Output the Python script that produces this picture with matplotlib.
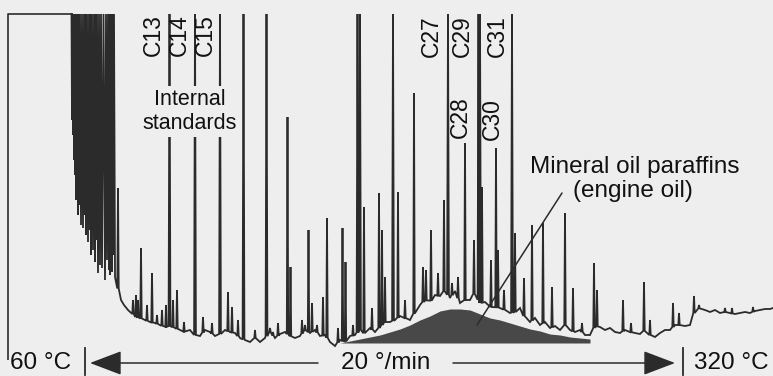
import numpy as np
import matplotlib
matplotlib.use("Agg")
import matplotlib.pyplot as plt

plt.rcParams['font.family'] = ['Liberation Sans', 'DejaVu Sans']

# ---------------- data (retention position, detector response; response axis drawn top-down, 14 = full scale)
FULL_SCALE = 14

# solvent front: valleys between off-scale solvent peaks
solvent_x = [72, 73, 74, 75, 76, 77, 78, 79, 81, 83, 85, 86, 88, 90, 91, 93, 95, 96, 98, 100,
             102, 105, 107, 109, 110, 112, 113]
solvent_low = [120, 135, 160, 175, 200, 190, 215, 205, 225, 228, 215, 235, 242, 230, 255, 250,
               262, 240, 273, 265, 268, 280, 260, 270, 275, 272, 255]

# baseline of the chromatogram
base_x = [115, 121, 124, 128, 133, 136, 140, 145, 150, 155, 160, 165, 170, 175, 180, 185, 190,
          195, 200, 205, 210, 215, 220, 225, 230, 235, 240, 245, 250, 255, 260, 265, 270, 275,
          280, 285, 290, 295, 300, 305, 310, 315, 320, 325, 330, 335, 340, 345, 350, 355, 360,
          365, 370, 375, 380, 385, 390, 395, 400, 405, 410, 415, 420, 425, 430, 435, 440, 445,
          450, 455, 460, 465, 470, 475, 480, 485, 490, 495, 500, 505, 510, 515, 520, 525, 530,
          535, 540, 545, 550, 555, 560, 565, 570, 575, 580, 585, 590, 595, 600, 605, 610, 615,
          620, 625, 630, 635, 640, 645, 650, 655, 660, 665, 670, 675, 680, 685, 690, 695, 700,
          705, 710, 715, 720, 725, 730, 735, 740, 745, 750, 755, 760, 765, 770, 773]
base_y = [277, 300, 305, 310, 314, 317, 318, 320, 322, 323, 325, 327, 326, 328, 330, 332, 330,
          335, 336, 330, 332, 336, 334, 330, 332, 333, 338, 340, 342, 338, 342, 338, 332, 338,
          334, 332, 336, 338, 336, 330, 333, 330, 336, 335, 342, 346, 340, 342, 336, 335, 330,
          334, 328, 332, 327, 322, 322, 320, 316, 318, 320, 312, 305, 300, 302, 295, 296, 290,
          298, 291, 303, 300, 300, 292, 303, 302, 307, 307, 308, 310, 313, 312, 308, 318, 322,
          318, 325, 322, 328, 326, 330, 325, 330, 332, 330, 335, 335, 326, 327, 330, 328, 332,
          333, 330, 332, 333, 334, 330, 335, 337, 333, 330, 330, 325, 325, 326, 325, 310, 308,
          310, 312, 310, 313, 312, 313, 314, 313, 312, 313, 311, 310, 309, 309, 308]

# individual peaks (position, apex)
peak_x = [118, 133, 136, 138, 141, 147, 152, 157, 162, 166, 169.5, 173, 177, 184, 195, 203,
          212, 220, 228, 232, 238, 243.5, 255, 266.5, 270, 273, 278, 287.5, 290.5, 302, 305,
          308.5, 312, 317, 323, 327, 338, 342.5, 345.5, 353, 357.5, 360, 364, 372, 379, 382,
          385, 393, 398, 405, 414, 423, 426, 431, 438, 444, 448, 452, 458, 465, 474, 478.5,
          480, 482, 491, 496, 498, 504, 512, 515, 524, 532, 543, 552, 565, 573, 582, 594, 597,
          623, 631, 644, 650, 673, 679, 694, 699, 725, 732, 753]
peak_top = [188, 300, 295, 300, 248, 305, 273, 315, 310, 305, 14, 300, 290, 322, 14, 317,
            323, 14, 292, 307, 320, 14, 330, 14, 328, 332, 323, 117, 267, 320, 325,
            230, 303, 325, 297, 218, 328, 228, 262, 325, 14, 14, 207, 308, 193, 230,
            277, 14, 192, 300, 93, 267, 270, 230, 273, 200, 14, 283, 277, 143, 240, 14,
            14, 187, 260, 148, 250, 290, 14, 233, 278, 225, 223, 287, 213, 288, 323, 263, 290,
            300, 323, 282, 320, 303, 313, 296, 305, 308, 308, 307]

# unresolved mineral-oil hump
hump_x = [340, 350, 360, 370, 380, 390, 400, 410, 420, 430, 440, 450, 460, 470, 480, 490, 500,
          510, 520, 530, 540, 550, 560, 570, 580, 590]
hump_top = [343, 341, 339, 337, 335, 332, 329, 325, 320, 316, 311, 309, 309, 310, 314, 318, 320,
            323, 326, 329, 331, 334, 335, 337, 338, 339]
hump_floor = 343

# n-alkane labels
label_text = ['C13', 'C14', 'C15', 'C27', 'C29', 'C31', 'C28', 'C30']
label_x = [153, 179, 205, 431, 462, 497, 460, 492]
label_y = [35, 35, 35, 36, 36, 36, 117, 119]

# temperature programme
prog_start_x, prog_end_x = 85, 683
prog_labels = ['60 °C', '20 °/min', '320 °C']

# ---------------- figure
BG = '#eeeeee'
INK = '#2b2b2b'
fig = plt.figure(figsize=(7.73, 3.76), dpi=100, facecolor=BG)
ax = fig.add_axes([0, 0, 1, 1])
ax.set_facecolor(BG)
ax.set_xlim(0, 773)
ax.set_ylim(376, 0)
ax.axis('off')

# frame of the recorder trace
ax.plot([8, 8, 73], [360, FULL_SCALE, FULL_SCALE], color=INK, lw=1.2, solid_capstyle='butt')

# solvent zig-zag
sx, sy = [71.5], [FULL_SCALE]
for i, (x, lo) in enumerate(zip(solvent_x, solvent_low)):
    sx.append(x); sy.append(lo)
    nxt = solvent_x[i + 1] if i + 1 < len(solvent_x) else base_x[0]
    sx.append((x + nxt) / 2); sy.append(FULL_SCALE)

# main trace: baseline + peaks
foot = np.interp(peak_x, base_x, base_y)
pts = [(x, y) for x, y in zip(base_x, base_y)
       if min(abs(x - p) for p in peak_x) > 1.0 or x == base_x[0]]
for p, t, f in zip(peak_x, peak_top, foot):
    w = 0.9 if t <= FULL_SCALE else 0.7
    pts += [(p - w, f), (p, t), (p + w, f)]
pts.sort()
tx = sx + [p[0] for p in pts]
ty = sy + [p[1] for p in pts]

ax.fill_between(hump_x, hump_top, hump_floor, color='#484848', lw=0, zorder=1)
ax.plot(tx, ty, color=INK, lw=1.3, zorder=2, solid_joinstyle='miter')

# labels
for t, x, y in zip(label_text, label_x, label_y):
    ax.text(x, y, t, rotation=90, ha='center', va='center', fontsize=16.5, color='#111111', zorder=5)

ax.text(190, 129, 'Internal\nstandards', ha='center', va='baseline', fontsize=15.5,
        linespacing=1.2, color='#111111', zorder=5,
        bbox=dict(boxstyle='square,pad=0.15', fc=BG, ec='none'))

ax.text(635, 173, 'Mineral oil paraffins', ha='center', va='baseline', fontsize=17.5, color='#111111')
ax.text(633, 197, '(engine oil)', ha='center', va='baseline', fontsize=17.5, color='#111111')
ax.annotate('', xy=(477, 325), xytext=(562, 193),
            arrowprops=dict(arrowstyle='-', lw=1.1, color=INK, shrinkA=0, shrinkB=0))

# temperature programme bar
ya = 363
ax.plot([prog_start_x, prog_start_x], [348, 375], color=INK, lw=1.3)
ax.plot([prog_end_x, prog_end_x], [348, 375], color=INK, lw=1.3)
arrow = dict(arrowstyle='-|>,head_length=1.0,head_width=0.38', lw=1.1, color=INK,
             shrinkA=0, shrinkB=0, mutation_scale=20)
ax.annotate('', xy=(prog_start_x + 5, ya), xytext=(318, ya), arrowprops=arrow)
ax.annotate('', xy=(prog_end_x - 8, ya), xytext=(453, ya), arrowprops=arrow)
ax.text(10, ya, prog_labels[0], ha='left', va='center', fontsize=17.5, color='#111111')
ax.text(386, ya, prog_labels[1], ha='center', va='center', fontsize=17.5, color='#111111')
ax.text(694, ya, prog_labels[2], ha='left', va='center', fontsize=17.5, color='#111111')

fig.savefig('out.png', dpi=100, facecolor=BG)
